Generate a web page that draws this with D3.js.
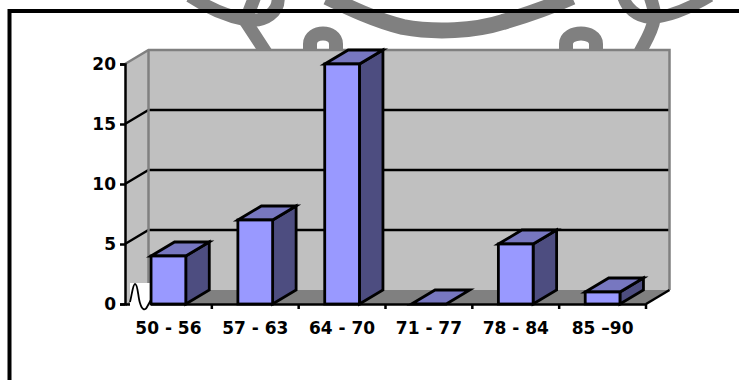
<!DOCTYPE html>
<html>
<head>
<meta charset="utf-8">
<script src="https://cdn.jsdelivr.net/npm/d3@7"></script>
<style>
html, body { margin: 0; padding: 0; background: #fff; }
svg { display: block; }
text { font-family: "DejaVu Sans", sans-serif; font-weight: bold; font-size: 17px; fill: #000; }
</style>
</head>
<body>
<script>
var categories = ["50 - 56", "57 - 63", "64 - 70", "71 - 77", "78 - 84", "85 \u201390"];
var counts = [4, 7, 20, 0, 5, 1];
var yTicks = [0, 5, 10, 15, 20];

var width = 739,
    height = 380,
    depthX = 23.5,
    depthY = 14;

var svg = d3.select("body").append("svg")
    .attr("width", width)
    .attr("height", height);

var x = d3.scaleBand()
    .domain(categories)
    .range([125, 646])
    .paddingInner(0.6)
    .paddingOuter(0.3);

var y = d3.scaleLinear()
    .domain([0, 20])
    .range([304, 64]);

// pen flourishes behind the chart
var scribbles = [
    { w: 13, d: "M190,-4 C205,6 225,16 247,20 C265,22 280,12 278,-4" },
    { w: 13, d: "M255,-4 C252,5 248,12 246,22 L267,54" },
    { w: 14, d: "M310,54 L310,44 C310,30 336,30 336,44 L336,54" },
    { w: 16, d: "M327,-3 C350,8 375,20 403,27 C435,33 475,31 503,22 C530,14 550,7 572,-3" },
    { w: 14, d: "M566,54 L566,44 C566,30 596,30 596,44 L596,54" },
    { w: 12, d: "M623,-4 C626,8 637,17 650,18 C668,17 690,8 710,-4" },
    { w: 13, d: "M650,-4 C652,4 656,10 654,20 C652,32 645,42 639,54" }
];
svg.append("g").selectAll("path")
    .data(scribbles)
    .enter().append("path")
    .attr("d", function(d) { return d.d; })
    .attr("fill", "none")
    .attr("stroke", "#808080")
    .attr("stroke-width", function(d) { return d.w; });

// frame, only top and left sides are drawn
svg.append("path")
    .attr("d", "M9.5,380 L9.5,11 L739,11")
    .attr("fill", "none")
    .attr("stroke", "#000")
    .attr("stroke-width", 4);

var x0 = x.range()[0],
    x1 = x.range()[1];

// side wall, back wall and floor
svg.append("polygon")
    .attr("points", [[x0, y(20)], [x0 + depthX, y(20) - depthY], [x0 + depthX, y(0) - depthY], [x0, y(0)]].join(" "))
    .attr("fill", "#c0c0c0");
svg.append("rect")
    .attr("x", x0 + depthX)
    .attr("y", y(20) - depthY)
    .attr("width", x1 - x0)
    .attr("height", y(0) - y(20))
    .attr("fill", "#c0c0c0");
svg.append("polygon")
    .attr("points", [[x0, y(0)], [x0 + depthX, y(0) - depthY], [x1 + depthX, y(0) - depthY], [x1, y(0)]].join(" "))
    .attr("fill", "#808080");

// gridlines run across the side wall and then along the back wall
svg.append("g").selectAll("path")
    .data(yTicks.filter(function(d) { return d > 0 && d < 20; }))
    .enter().append("path")
    .attr("d", function(d) {
        return "M" + x0 + "," + y(d) + "L" + (x0 + depthX) + "," + (y(d) - depthY) + "L" + (x1 + depthX) + "," + (y(d) - depthY);
    })
    .attr("fill", "none")
    .attr("stroke", "#000")
    .attr("stroke-width", 2.3);

// grey outline of the walls
svg.append("path")
    .attr("d", "M" + x0 + "," + y(20) + "L" + (x0 + depthX) + "," + (y(20) - depthY) + "L" + (x1 + depthX) + "," + (y(20) - depthY) +
        "L" + (x1 + depthX) + "," + (y(0) - depthY))
    .attr("fill", "none")
    .attr("stroke", "#808080")
    .attr("stroke-width", 2.5);
svg.append("path")
    .attr("d", "M" + (x0 + depthX) + "," + (y(20) - depthY) + "L" + (x0 + depthX) + "," + (y(0) - depthY))
    .attr("fill", "none")
    .attr("stroke", "#808080")
    .attr("stroke-width", 2.5);

var yAxis = svg.append("g")
    .attr("transform", "translate(" + x0 + ",0)")
    .call(d3.axisLeft(y).tickValues(yTicks).tickSize(5).tickPadding(4));
var xAxis = svg.append("g")
    .attr("transform", "translate(0," + y(0) + ")")
    .call(d3.axisBottom(x).tickSize(0).tickPadding(18));

[yAxis, xAxis].forEach(function(axis) {
    axis.attr("font-family", null).attr("font-size", null);
    axis.selectAll("path, line").attr("stroke", "#000").attr("stroke-width", 2.5);
    axis.selectAll("text").attr("fill", null);
});

// category ticks sit on the band edges, not the band centres
svg.append("g").selectAll("line")
    .data(categories)
    .enter().append("line")
    .attr("x1", function(d) { return x(d) + x.step() * 0.7; })
    .attr("x2", function(d) { return x(d) + x.step() * 0.7; })
    .attr("y1", y(0))
    .attr("y2", y(0) + 5)
    .attr("stroke", "#000")
    .attr("stroke-width", 2.5);

// floor front-right corner edge
svg.append("path")
    .attr("d", "M" + x1 + "," + y(0) + "L" + (x1 + depthX) + "," + (y(0) - depthY))
    .attr("fill", "none")
    .attr("stroke", "#000")
    .attr("stroke-width", 2.5);

// small hand-drawn axis break near the origin
svg.append("rect")
    .attr("x", 130)
    .attr("y", 283)
    .attr("width", 21)
    .attr("height", 23)
    .attr("fill", "#fff");
svg.append("path")
    .attr("d", "M130,302 C132,294 133,284 135,284 C138,284 138,298 140,303 C142,310 145,311 147,307 L152,298")
    .attr("fill", "none")
    .attr("stroke", "#000")
    .attr("stroke-width", 1.8);

// the bars: side, top and front faces
var barData = categories.map(function(c, i) { return { name: c, value: counts[i] }; });

var bars = svg.append("g").selectAll("g")
    .data(barData)
    .enter().append("g");

bars.filter(function(d) { return d.value > 0; }).append("polygon")
    .attr("points", function(d) {
        var r = x(d.name) + x.bandwidth();
        return [[r, y(d.value)], [r + depthX, y(d.value) - depthY], [r + depthX, y(0) - depthY], [r, y(0)]].join(" ");
    })
    .attr("fill", "#4d4d80")
    .attr("stroke", "#000")
    .attr("stroke-width", 2.8);

bars.append("polygon")
    .attr("points", function(d) {
        var l = x(d.name), r = l + x.bandwidth();
        return [[l, y(d.value)], [l + depthX, y(d.value) - depthY], [r + depthX, y(d.value) - depthY], [r, y(d.value)]].join(" ");
    })
    .attr("fill", "#7777c0")
    .attr("stroke", "#000")
    .attr("stroke-width", 2.8);

bars.filter(function(d) { return d.value > 0; }).append("rect")
    .attr("x", function(d) { return x(d.name); })
    .attr("y", function(d) { return y(d.value); })
    .attr("width", x.bandwidth())
    .attr("height", function(d) { return y(0) - y(d.value); })
    .attr("fill", "#9999ff")
    .attr("stroke", "#000")
    .attr("stroke-width", 2.8);
</script>
</body>
</html>
